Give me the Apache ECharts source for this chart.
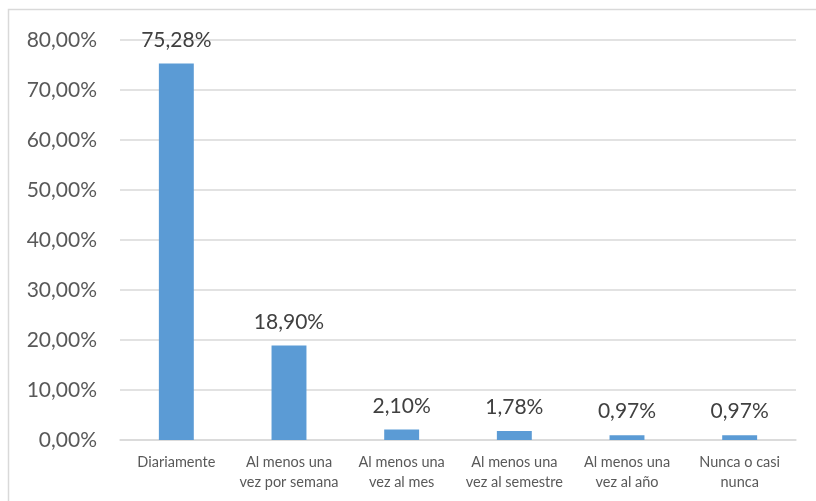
<!DOCTYPE html>
<html>
<head>
<meta charset="utf-8">
<script src="https://cdn.jsdelivr.net/npm/echarts@6/dist/echarts.min.js"></script>
<style>
  html, body { margin: 0; padding: 0; background: #fff; }
  #chart { width: 816px; height: 501px; }
</style>
</head>
<body>
<div id="chart"></div>
<script>
const categories = [
  'Diariamente',
  'Al menos una\nvez por semana',
  'Al menos una\nvez al mes',
  'Al menos una\nvez al semestre',
  'Al menos una\nvez al año',
  'Nunca o casi\nnunca'
];
const values = [75.28, 18.90, 2.10, 1.78, 0.97, 0.97];

const fmt = v => v.toFixed(2).replace('.', ',') + '%';
const font = 'Lato, "Open Sans", sans-serif';

const chart = echarts.init(document.getElementById('chart'));
chart.setOption({
  animation: false,
  graphic: [{
    type: 'rect',
    shape: { x: 8.5, y: 9.5, width: 830, height: 520 },
    style: { fill: 'none', stroke: '#d9d9d9', lineWidth: 1.5 }
  }],
  grid: { left: 120, right: 20, top: 40, bottom: 61 },
  xAxis: {
    type: 'category',
    data: categories,
    axisLine: { lineStyle: { color: '#d9d9d9', width: 1.5 } },
    axisTick: { show: false },
    axisLabel: {
      color: '#595959', fontFamily: font, fontSize: 14.5, lineHeight: 20,
      margin: 12, interval: 0
    }
  },
  yAxis: {
    type: 'value',
    min: 0, max: 80, interval: 10,
    axisLine: { show: false },
    axisTick: { show: false },
    splitLine: { lineStyle: { color: '#d9d9d9', width: 1.5 } },
    axisLabel: {
      color: '#595959', fontFamily: font, fontSize: 21, margin: 23,
      formatter: v => fmt(v)
    }
  },
  series: [{
    type: 'bar',
    data: values,
    barWidth: '31%',
    itemStyle: { color: '#5b9bd5' },
    label: {
      show: true, position: 'top', distance: 13,
      color: '#404040', fontFamily: font, fontSize: 21,
      formatter: p => fmt(p.value)
    }
  }]
});
</script>
</body>
</html>
